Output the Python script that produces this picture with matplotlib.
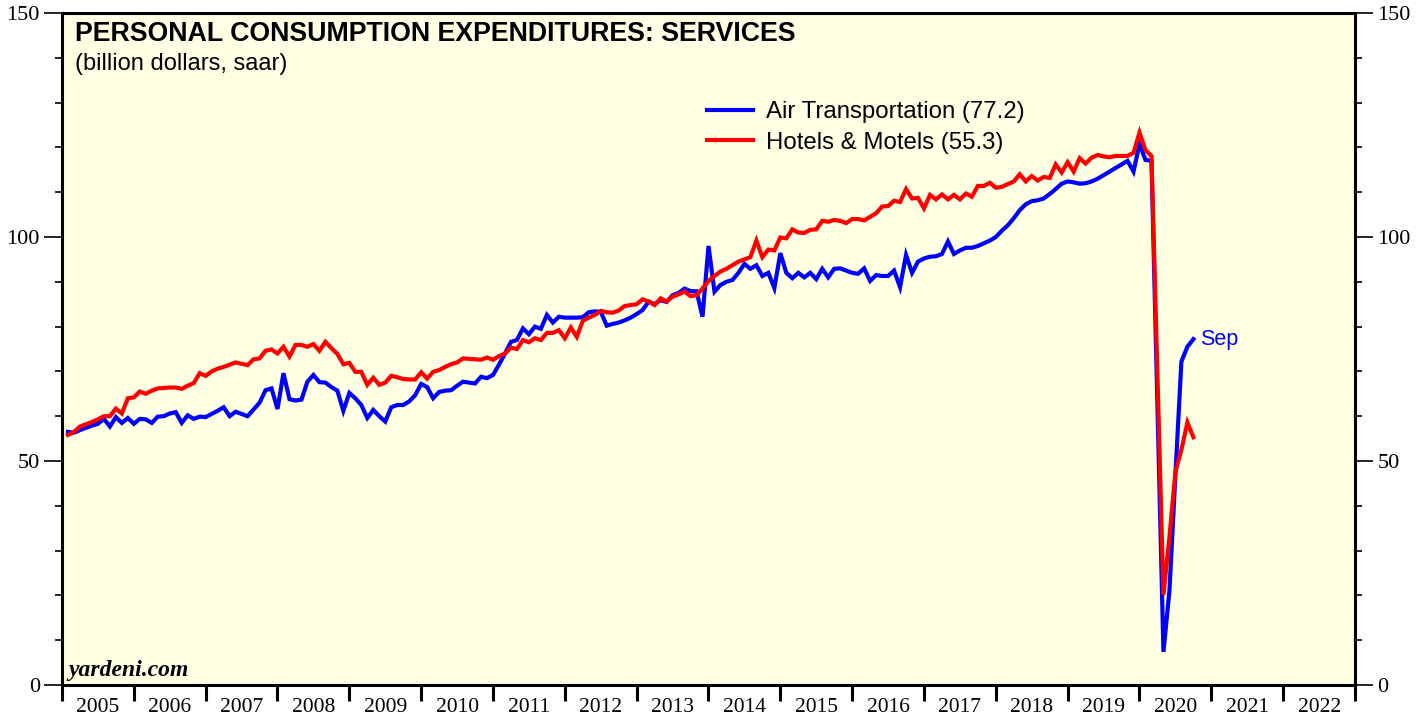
import numpy as np
import matplotlib
matplotlib.use('Agg')
import matplotlib.pyplot as plt
from matplotlib.ticker import FixedLocator, NullFormatter

# monthly data, Jan 2005 .. Sep 2020 (billion dollars, saar)
air = [
    56.5, 56.3, 56.9, 57.4, 57.9, 58.3, 59.4, 57.7, 59.8, 58.5, 59.6, 58.3,  # 2005
    59.4, 59.3, 58.5, 59.9, 60.0, 60.6, 60.9, 58.5, 60.2, 59.4, 59.9, 59.8,  # 2006
    60.5, 61.2, 62.0, 60.0, 61.0, 60.5, 60.0, 61.5, 63.0, 65.8, 66.2, 61.6,  # 2007
    69.6, 63.8, 63.5, 63.7, 67.7, 69.2, 67.6, 67.5, 66.5, 65.7, 61.2, 65.2,  # 2008
    64.0, 62.5, 59.6, 61.4, 60.0, 58.8, 62.0, 62.5, 62.5, 63.3, 64.7, 67.2,  # 2009
    66.5, 64.0, 65.4, 65.7, 65.8, 66.8, 67.7, 67.5, 67.3, 68.8, 68.5, 69.2,  # 2010
    71.5, 74.0, 76.6, 77.0, 79.6, 78.3, 80.0, 79.5, 82.6, 80.9, 82.2, 82.0,  # 2011
    82.0, 82.0, 82.1, 83.2, 83.4, 83.3, 80.2, 80.6, 80.9, 81.4, 82.0, 82.8,  # 2012
    83.7, 85.6, 85.0, 85.9, 85.5, 87.0, 87.5, 88.5, 87.9, 87.9, 82.2, 98.0,  # 2013
    87.8, 89.3, 90.0, 90.4, 92.0, 94.0, 92.9, 93.7, 91.3, 92.0, 88.6, 96.4,  # 2014
    92.0, 90.8, 92.0, 91.0, 92.0, 90.6, 92.9, 91.0, 92.9, 93.0, 92.5, 92.0,  # 2015
    91.8, 93.0, 90.2, 91.5, 91.3, 91.3, 92.5, 88.8, 96.0, 92.0, 94.5, 95.2,  # 2016
    95.6, 95.7, 96.2, 99.0, 96.2, 97.0, 97.6, 97.6, 98.0, 98.6, 99.2, 100.0,  # 2017
    101.4, 102.6, 104.2, 106.0, 107.3, 108.0, 108.2, 108.6, 109.6, 110.7, 111.9, 112.4,  # 2018
    112.2, 111.9, 112.0, 112.4, 113.0, 113.8, 114.6, 115.4, 116.2, 117.0, 114.6, 120.8,  # 2019
    117.2, 117.0, 62.0, 7.4, 21.0, 47.0, 72.2, 75.5, 77.2,  # 2020
]

hotels = [
    55.8, 56.5, 57.7, 58.2, 58.7, 59.3, 60.0, 60.0, 61.7, 60.6, 64.0, 64.2,  # 2005
    65.5, 65.0, 65.7, 66.2, 66.3, 66.4, 66.4, 66.1, 66.8, 67.4, 69.6, 69.0,  # 2006
    70.0, 70.6, 71.0, 71.5, 72.0, 71.7, 71.4, 72.7, 72.9, 74.6, 74.9, 74.0,  # 2007
    75.5, 73.3, 75.9, 75.9, 75.5, 76.1, 74.6, 76.6, 75.2, 73.9, 71.6, 71.9,  # 2008
    69.9, 69.9, 67.0, 68.6, 67.0, 67.5, 69.0, 68.7, 68.3, 68.2, 68.2, 69.8,  # 2009
    68.4, 69.9, 70.3, 71.0, 71.6, 72.0, 72.9, 72.8, 72.7, 72.6, 73.1, 72.6,  # 2010
    73.4, 74.0, 75.3, 75.0, 77.0, 76.5, 77.4, 77.0, 78.6, 78.6, 79.2, 77.4,  # 2011
    79.8, 77.7, 81.3, 82.0, 82.6, 83.5, 83.2, 83.1, 83.6, 84.6, 84.8, 85.0,  # 2012
    86.1, 85.6, 84.8, 86.3, 85.6, 86.7, 87.2, 87.8, 86.8, 87.0, 88.5, 90.2,  # 2013
    91.3, 92.3, 92.9, 93.7, 94.5, 95.0, 95.5, 99.2, 95.5, 97.2, 97.0, 99.9,  # 2014
    99.7, 101.7, 101.0, 100.9, 101.6, 101.7, 103.6, 103.4, 103.8, 103.6, 103.1, 104.0,  # 2015
    104.0, 103.7, 104.5, 105.3, 106.8, 106.9, 108.1, 107.8, 110.7, 108.6, 108.7, 106.4,  # 2016
    109.4, 108.4, 109.5, 108.4, 109.4, 108.4, 109.7, 109.0, 111.4, 111.4, 112.1, 111.0,  # 2017
    111.2, 111.8, 112.4, 114.0, 112.4, 113.6, 112.6, 113.4, 113.2, 116.2, 114.4, 116.7,  # 2018
    114.6, 117.6, 116.4, 117.7, 118.3, 118.0, 117.8, 118.1, 118.1, 118.1, 118.8, 123.3,  # 2019
    119.4, 118.1, 69.0, 20.1, 33.0, 47.6, 52.5, 58.6, 55.3,  # 2020
]

year_labels = [str(y) for y in range(2005, 2023)]

# month index -> decimal year (points placed at month end)
t = np.array([2005 + (i + 1) / 12 for i in range(len(air))])

BG = '#FFFFE3'
SERIF = 'Liberation Serif'
SANS = 'Liberation Sans'

fig = plt.figure(figsize=(14.26, 7.17), dpi=100)
ax = fig.add_axes([62 / 1426, 32 / 717, 1293 / 1426, 672 / 717])
ax.set_facecolor(BG)

ax.plot(t, air, color='#0000FF', lw=3, label='Air Transportation (77.2)', solid_joinstyle='miter', zorder=3)
ax.plot(t, hotels, color='#FF0000', lw=3, label='Hotels & Motels (55.3)', solid_joinstyle='miter', zorder=3)

ax.set_xlim(2005, 2023)
ax.set_ylim(0, 150)

for s in ax.spines.values():
    s.set_linewidth(2.2)

# x axis: ticks at year boundaries, labels centred in each year
ax.xaxis.set_major_locator(FixedLocator(range(2005, 2024)))
ax.xaxis.set_major_formatter(NullFormatter())
ax.xaxis.set_minor_locator(FixedLocator([y + 0.5 for y in range(2005, 2023)]))
ax.set_xticklabels(year_labels, minor=True, fontfamily=SERIF, fontsize=15.5)
ax.tick_params(axis='x', which='major', direction='out', length=11.5, width=2.2)
ax.tick_params(axis='x', which='minor', length=0, pad=9)

# y axis: both sides
ax.set_yticks([0, 50, 100, 150])
ax.set_yticks(np.arange(10, 150, 10), minor=True)
ax.tick_params(axis='y', which='major', direction='out', length=13, width=1.2,
               left=True, right=True, labelleft=True, labelright=True, labelsize=16, pad=3)
ax.tick_params(axis='y', which='minor', direction='out', length=5, width=1.2,
               left=True, right=True)
for tk in ax.yaxis.get_major_ticks():
    tk.label1.set_fontfamily(SERIF)
    tk.label2.set_fontfamily(SERIF)

ax.text(0.01, 0.988, 'PERSONAL CONSUMPTION EXPENDITURES: SERVICES', transform=ax.transAxes,
        fontsize=19.3, fontweight='bold', family=SANS, va='top', ha='left')
ax.text(0.01, 0.94, '(billion dollars, saar)', transform=ax.transAxes,
        fontsize=17, family=SANS, va='top', ha='left')
ax.text(0.005, 0.0134, 'yardeni.com', transform=ax.transAxes, fontsize=17,
        fontweight='bold', style='italic', family=SERIF, va='baseline', ha='left')

ax.annotate('Sep', xy=(t[-1], air[-1]), xytext=(5, 0), textcoords='offset points',
            color='#0000FF', fontsize=15.5, family=SANS, va='center', ha='left')

leg = ax.legend(loc='upper left', bbox_to_anchor=(0.482, 0.901), frameon=False,
                handlelength=1.9, handletextpad=0.58, labelspacing=0.35,
                prop={'family': SANS, 'size': 17.3})

fig.savefig('out.png', dpi=100, facecolor='white')
